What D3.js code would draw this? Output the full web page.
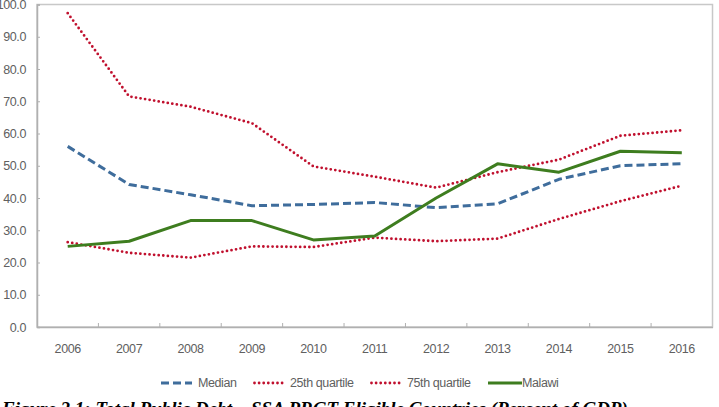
<!DOCTYPE html>
<html>
<head>
<meta charset="utf-8">
<script src="https://cdn.jsdelivr.net/npm/d3@7"></script>
<style>
  body { margin: 0; background: #fff; }
  svg { display: block; }
  .axis text, .legend text { font-family: "Liberation Sans", Arial, sans-serif; font-size: 12.5px; letter-spacing: -0.4px; fill: #606060; }
</style>
</head>
<body>
<div id="chart"></div>
<script>
// Data
var years = ["2006", "2007", "2008", "2009", "2010", "2011", "2012", "2013", "2014", "2015", "2016"];
var median = [56.0, 44.2, 41.0, 37.6, 38.0, 38.6, 37.0, 38.2, 45.8, 50.0, 50.6];
var q25 = [26.3, 23.0, 21.5, 25.0, 24.8, 27.7, 26.6, 27.4, 33.5, 39.0, 43.8];
var q75 = [97.3, 71.5, 68.3, 63.2, 49.8, 46.6, 43.2, 48.0, 51.9, 59.3, 61.0];
var malawi = [25.0, 26.6, 33.0, 33.0, 27.0, 28.2, 40.0, 50.6, 48.0, 54.5, 54.0];
var yTicks = [0, 10, 20, 30, 40, 50, 60, 70, 80, 90, 100];

var W = 719, H = 407;
var margin = { top: 4.5, right: 6.5, bottom: 80, left: 37 };
var width = W - margin.left - margin.right,
    height = H - margin.top - margin.bottom;

var svg = d3.select("#chart").append("svg")
    .attr("width", W).attr("height", H);

var g = svg.append("g")
    .attr("transform", "translate(" + margin.left + "," + margin.top + ")");

var x = d3.scaleBand().domain(years).range([0, width]).padding(0);
var y = d3.scaleLinear().domain([0, 100]).range([height, 0]);

// plot frame
g.append("rect")
    .attr("x", 0).attr("y", 0)
    .attr("width", width).attr("height", height)
    .attr("fill", "none").attr("stroke", "#c8c8c8").attr("stroke-width", 1.5);

// y axis
var yAxis = g.append("g").attr("class", "axis")
    .call(d3.axisLeft(y).tickValues(yTicks).tickFormat(d3.format(".1f")).tickSize(-3).tickPadding(11));
yAxis.select(".domain").attr("stroke", "#b0b0b0").attr("stroke-width", 1.5);
yAxis.selectAll(".tick line").attr("stroke", "#b0b0b0");

// x axis: labels at band centres, ticks at band boundaries
var xAxis = g.append("g").attr("class", "axis")
    .attr("transform", "translate(0," + height + ")")
    .call(d3.axisBottom(x).tickSize(0).tickPadding(17));
xAxis.select(".domain").attr("stroke", "#b0b0b0").attr("stroke-width", 1.5);
xAxis.selectAll(".xb").data(years.slice(1)).enter().append("line")
    .attr("class", "xb")
    .attr("x1", function (d) { return x(d); }).attr("x2", function (d) { return x(d); })
    .attr("y1", 0).attr("y2", -4)
    .attr("stroke", "#b0b0b0");

var cx = function (i) { return x(years[i]) + x.bandwidth() / 2; };

var series = [
  { name: "Median", values: median, color: "#3f6d9c", width: 3, dash: "8,4", cap: "butt" },
  { name: "25th quartile", values: q25, color: "#c0102e", width: 2.8, dash: "0,4.6", cap: "round" },
  { name: "75th quartile", values: q75, color: "#c0102e", width: 2.8, dash: "0,4.6", cap: "round" },
  { name: "Malawi", values: malawi, color: "#3e7d1f", width: 3, dash: null, cap: "butt" }
];

var line = d3.line()
    .x(function (d, i) { return cx(i); })
    .y(function (d) { return y(d); });

g.selectAll(".series").data(series).enter().append("path")
    .attr("class", "series")
    .attr("d", function (d) { return line(d.values); })
    .attr("fill", "none")
    .attr("stroke", function (d) { return d.color; })
    .attr("stroke-width", function (d) { return d.width; })
    .attr("stroke-dasharray", function (d) { return d.dash; })
    .attr("stroke-linecap", function (d) { return d.cap; })
    .attr("stroke-linejoin", "round");

// legend
var legendX = [161, 253, 370, 488];
var legendY = 383;
var leg = svg.append("g").attr("class", "legend")
    .selectAll("g").data(series).enter().append("g")
    .attr("transform", function (d, i) { return "translate(" + legendX[i] + "," + legendY + ")"; });
leg.append("line")
    .attr("x1", function (d) { return d.dash === "0,4.6" ? 1.5 : 0; })
    .attr("x2", function (d) { return d.name === "Malawi" ? 34 : 31; })
    .attr("y1", 0).attr("y2", 0)
    .attr("stroke", function (d) { return d.color; })
    .attr("stroke-width", function (d) { return d.width; })
    .attr("stroke-dasharray", function (d) { return d.dash; })
    .attr("stroke-linecap", function (d) { return d.cap; });
leg.append("text")
    .attr("x", function (d) { return d.name === "Malawi" ? 34 : 37; })
    .attr("y", 0).attr("dy", "0.35em")
    .text(function (d) { return d.name; });

// caption (cut off at the bottom edge, as in the source)
svg.append("text")
    .attr("x", 2).attr("y", 415)
    .attr("font-family", "'Liberation Serif', 'Times New Roman', serif")
    .attr("font-size", 19).attr("font-weight", "bold").attr("font-style", "italic")
    .attr("fill", "#000")
    .text("Figure 2.1: Total Public Debt \u2013 SSA PRGT Eligible Countries (Percent of GDP)");
</script>
</body>
</html>
